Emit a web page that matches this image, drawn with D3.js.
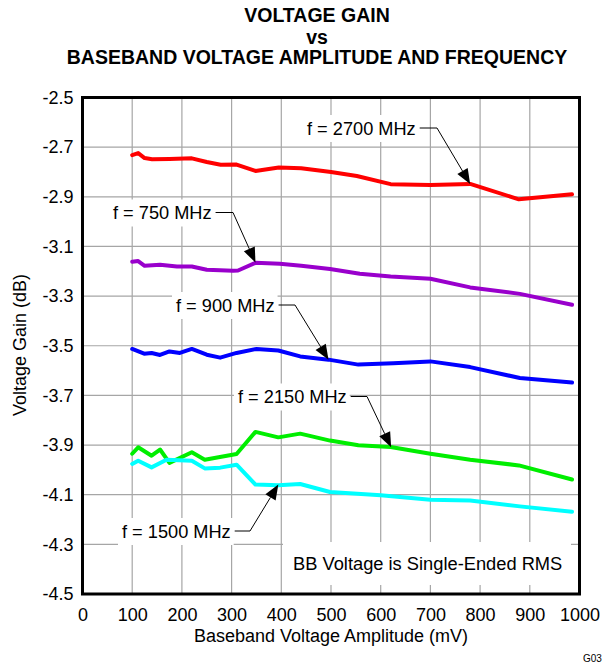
<!DOCTYPE html>
<html><head><meta charset="utf-8">
<script src="https://cdn.jsdelivr.net/npm/d3@7"></script>
<style>
html,body{margin:0;padding:0;background:#fff;}
svg{display:block;font-family:"Liberation Sans",Arial,sans-serif;}
</style></head>
<body>
<svg id="c" width="605" height="666"></svg>
<script>
// ---- data ----
const xTicks = [0,100,200,300,400,500,600,700,800,900,1000];
const yTicks = [-2.5,-2.7,-2.9,-3.1,-3.3,-3.5,-3.7,-3.9,-4.1,-4.3,-4.5];

const s2700 = [[100,-2.732],[112,-2.724],[125,-2.744],[140,-2.749],[175,-2.748],[220,-2.745],[250,-2.760],[278,-2.771],[310,-2.770],[348,-2.796],[395,-2.782],[440,-2.785],[500,-2.800],[552,-2.816],[620,-2.849],[700,-2.852],[780,-2.848],[878,-2.910],[985,-2.890]];
const s750 = [[100,-3.162],[112,-3.159],[125,-3.178],[156,-3.174],[190,-3.181],[220,-3.181],[250,-3.194],[303,-3.198],[313,-3.197],[348,-3.166],[397,-3.170],[440,-3.178],[498,-3.191],[558,-3.210],[620,-3.221],[700,-3.230],[780,-3.265],[880,-3.291],[985,-3.335]];
const s900 = [[100,-3.513],[124,-3.532],[139,-3.529],[156,-3.537],[175,-3.523],[196,-3.529],[220,-3.513],[250,-3.536],[277,-3.548],[310,-3.529],[350,-3.513],[394,-3.519],[438,-3.543],[495,-3.556],[555,-3.576],[625,-3.570],[700,-3.563],[780,-3.586],[880,-3.630],[985,-3.648]];
const s2150 = [[100,-3.935],[112,-3.909],[139,-3.943],[156,-3.918],[175,-3.972],[220,-3.929],[246,-3.959],[310,-3.936],[348,-3.847],[394,-3.869],[438,-3.854],[498,-3.882],[555,-3.901],[620,-3.908],[700,-3.935],[780,-3.959],[878,-3.982],[985,-4.039]];
const s1500 = [[100,-3.976],[112,-3.963],[139,-3.990],[169,-3.959],[220,-3.963],[246,-3.994],[277,-3.991],[310,-3.979],[348,-4.059],[394,-4.062],[438,-4.057],[498,-4.089],[600,-4.102],[700,-4.120],[780,-4.123],[880,-4.147],[985,-4.169]];

const seriesNames = ["f = 2700 MHz","f = 750 MHz","f = 900 MHz","f = 2150 MHz","f = 1500 MHz"];
const seriesData = [s2700, s750, s900, s2150, s1500];
const seriesColors = ["#ff0000","#9900cc","#0000ff","#00ee00","#00ffff"];
// arrow tips (data coords) for each label
const tips = [[780,-2.848],[348,-3.165],[495,-3.556],[621,-3.909],[394,-4.059]];
// ---- layout ----
const labelPos = [[307,134.5,437],[113,219,233],[176,311.5,295],[238,403,367],[122,537.5,250]]; // text x, baseline, elbow x

const svg = d3.select("#c");
const x = d3.scaleLinear().domain([0,1000]).range([82.5,579.5]);
const y = d3.scaleLinear().domain([-4.5,-2.5]).range([594,97.5]);

// title
const title = ["VOLTAGE GAIN","vs","BASEBAND VOLTAGE AMPLITUDE AND FREQUENCY"];
const tb = [21.5,43.5,64];
svg.selectAll("text.title").data(title).join("text")
  .attr("x",317).attr("y",(d,i)=>tb[i]).attr("text-anchor","middle")
  .attr("font-weight","bold").attr("font-size",19.5).text(d=>d);

// grid
const g = svg.append("g");
g.selectAll("line.vg").data(xTicks.slice(1,-1)).join("line")
  .attr("x1",d=>x(d)).attr("x2",d=>x(d)).attr("y1",y(-2.5)).attr("y2",y(-4.5))
  .attr("stroke","#a6a6a6").attr("stroke-width",1.2);
g.selectAll("line.hg").data(yTicks.slice(1,-1)).join("line")
  .attr("y1",d=>y(d)).attr("y2",d=>y(d)).attr("x1",x(0)).attr("x2",x(1000))
  .attr("stroke","#a6a6a6").attr("stroke-width",1.2);

// axes labels
const xa = svg.append("g").attr("transform",`translate(0,${y(-4.5)})`)
  .call(d3.axisBottom(x).tickValues(xTicks).tickSize(0).tickPadding(14).tickFormat(d=>d));
xa.select(".domain").remove();
xa.selectAll("text").attr("font-size",18).attr("font-family","Liberation Sans, Arial, sans-serif").attr("fill","#000");
const ya = svg.append("g").attr("transform",`translate(${x(0)},0)`)
  .call(d3.axisLeft(y).tickValues(yTicks).tickSize(0).tickPadding(9).tickFormat(d=>d.toFixed(1)));
ya.select(".domain").remove();
ya.selectAll("text").attr("font-size",18).attr("font-family","Liberation Sans, Arial, sans-serif").attr("fill","#000");

svg.append("text").attr("x",331).attr("y",642).attr("text-anchor","middle")
  .attr("font-size",18).text("Baseband Voltage Amplitude (mV)");
svg.append("text").attr("transform","translate(26,345) rotate(-90)").attr("text-anchor","middle")
  .attr("font-size",18).text("Voltage Gain (dB)");
svg.append("text").attr("x",583).attr("y",662).attr("font-size",10).text("G03");

// series lines
const line = d3.line().x(d=>x(d[0])).y(d=>y(d[1]));
svg.selectAll("path.s").data(seriesData).join("path")
  .attr("d",line).attr("fill","none").attr("stroke",(d,i)=>seriesColors[i])
  .attr("stroke-width",4).attr("stroke-linejoin","round").attr("stroke-linecap","round");

// note box
svg.append("rect").attr("x",283).attr("y",542).attr("width",288).attr("height",43).attr("fill","#fff");
svg.append("text").attr("x",293).attr("y",569.5).attr("font-size",18.3).text("BB Voltage is Single-Ended RMS");

// labels with leaders
seriesNames.forEach((name,i)=>{
  const [tx,bl,ex] = labelPos[i];
  const t = svg.append("text").attr("x",tx).attr("y",bl).attr("font-size",18.2).text(name);
  const bb = t.node().getBBox();
  svg.append("rect").attr("x",bb.x-4).attr("y",bl-19.5).attr("width",bb.width+7).attr("height",27).attr("fill","#fff");
  t.raise();
  const cy = bl-6.5;
  const tipX = x(tips[i][0]), tipY = y(tips[i][1]);
  const x0 = bb.x+bb.width+4;
  const ang = Math.atan2(tipY-cy, tipX-ex);
  const L = 15, W = 6;
  const bx = tipX - L*Math.cos(ang), by = tipY - L*Math.sin(ang);
  svg.append("path").attr("d",`M${x0},${cy}H${ex}L${bx},${by}`).attr("fill","none").attr("stroke","#000").attr("stroke-width",1);
  const px = -Math.sin(ang), py = Math.cos(ang);
  svg.append("path").attr("d",`M${tipX},${tipY}L${bx+W*px},${by+W*py}L${bx-W*px},${by-W*py}Z`).attr("fill","#000");
});

// frame
svg.append("rect").attr("x",x(0)).attr("y",y(-2.5)).attr("width",x(1000)-x(0)).attr("height",y(-4.5)-y(-2.5))
  .attr("fill","none").attr("stroke","#000").attr("stroke-width",3);
</script>
</body></html>
